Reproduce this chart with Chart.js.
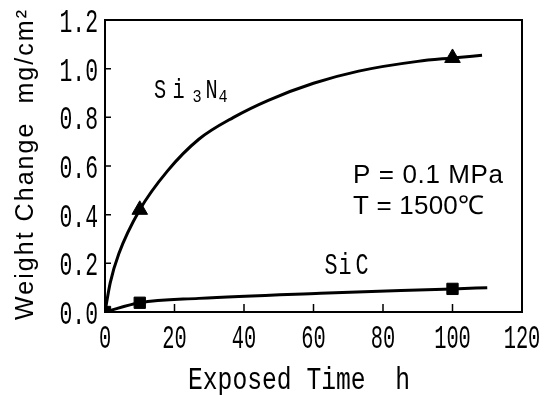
<!DOCTYPE html>
<html>
<head>
<meta charset="utf-8">
<script src="https://cdn.jsdelivr.net/npm/chart.js@4.4.0/dist/chart.umd.min.js"></script>
<style>
html, body { margin: 0; padding: 0; background: #fff; }
</style>
</head>
<body>
<canvas id="chart" width="544" height="395"></canvas>
<script>
// measured weight change (mg/cm2) after exposure time (h)
var timeMeasured = [0, 10, 100];
var si3n4Measured = [0, 0.42, 1.044];
var sicMeasured = [0, 0.038, 0.095];

// fitted curves through the measurements
var si3n4CurveTime = [0, 1.5, 4, 10, 18, 27, 37, 47, 60, 73, 90, 100, 108.5];
var si3n4CurveValue = [0, 0.12, 0.24, 0.42, 0.58, 0.71, 0.80, 0.87, 0.94, 0.99, 1.03, 1.044, 1.055];
var sicCurveTime = [0, 10, 27, 62, 100, 110];
var sicCurveValue = [0, 0.038, 0.056, 0.077, 0.095, 0.10];

var xTicks = [0, 20, 40, 60, 80, 100, 120];
var yTicks = [0, 0.2, 0.4, 0.6, 0.8, 1.0, 1.2];

var MONO = "'Liberation Mono', 'DejaVu Sans Mono', monospace";
var SANS = "'Liberation Sans', Arial, sans-serif";

function pairs(xs, ys) {
    return xs.map(function (x, i) { return { x: x, y: ys[i] }; });
}

// text squeezed horizontally by sx
function narrowText(ctx, text, x, y, font, sx, align) {
    ctx.font = font;
    var w = ctx.measureText(text).width * sx;
    var x0 = align === 'right' ? x - w : align === 'center' ? x - w / 2 : x;
    ctx.save();
    ctx.translate(x0, y);
    ctx.scale(sx, 1);
    ctx.textAlign = 'left';
    ctx.fillText(text, 0, 0);
    ctx.restore();
}

// text made to span a given width: letter spacing when short, squeeze when long
function fitText(ctx, text, x, y, width, font) {
    ctx.font = font;
    ctx.letterSpacing = '0px';
    var natural = ctx.measureText(text).width;
    if (natural >= width) {
        narrowText(ctx, text, x, y, font, width / natural, 'left');
        return;
    }
    ctx.letterSpacing = ((width - natural) / (text.length - 1)) + 'px';
    ctx.textAlign = 'left';
    ctx.fillText(text, x, y);
    ctx.letterSpacing = '0px';
}

var framePlugin = {
    id: 'frame',
    afterDraw: function (chart) {
        var ctx = chart.ctx;
        var a = chart.chartArea;
        var xs = chart.scales.x, ys = chart.scales.y;
        ctx.save();
        ctx.strokeStyle = '#000';
        ctx.lineWidth = 2;
        ctx.strokeRect(a.left, a.top, a.right - a.left, a.bottom - a.top);

        // inward tick marks
        ctx.lineWidth = 1.5;
        ctx.beginPath();
        xTicks.forEach(function (t) {
            var px = xs.getPixelForValue(t);
            ctx.moveTo(px, a.bottom);
            ctx.lineTo(px, a.bottom - 8);
        });
        yTicks.forEach(function (t) {
            var py = ys.getPixelForValue(t);
            ctx.moveTo(a.left, py);
            ctx.lineTo(a.left + 6, py);
        });
        ctx.stroke();

        ctx.fillStyle = '#000';
        ctx.textBaseline = 'alphabetic';

        // tick labels
        var tickFont = '34px ' + MONO;
        xTicks.forEach(function (t) {
            narrowText(ctx, String(t), xs.getPixelForValue(t), 348, tickFont, 0.6, 'center');
        });
        yTicks.forEach(function (t) {
            narrowText(ctx, t.toFixed(1), 98, ys.getPixelForValue(t) + 12, tickFont, 0.63, 'right');
        });

        // axis titles
        fitText(ctx, 'Exposed Time  h', 188, 389, 222, '31px ' + MONO);
        ctx.save();
        ctx.translate(33, 320);
        ctx.rotate(-Math.PI / 2);
        fitText(ctx, 'Weight Change  mg/cm\u00b2', 0, 0, 310, '25px ' + SANS);
        ctx.restore();

        // curve labels
        var big = '27px ' + MONO, small = '19px ' + MONO;
        narrowText(ctx, 'S', 160, 98, big, 0.75, 'center');
        narrowText(ctx, 'i', 178.5, 98, big, 0.75, 'center');
        narrowText(ctx, '3', 197, 102, small, 0.8, 'center');
        narrowText(ctx, 'N', 211.5, 98, big, 0.75, 'center');
        narrowText(ctx, '4', 223, 102, small, 0.8, 'center');

        var sic = '29px ' + MONO;
        narrowText(ctx, 'S', 331, 274, sic, 0.75, 'center');
        narrowText(ctx, 'i', 345, 274, sic, 0.75, 'center');
        narrowText(ctx, 'C', 362, 274, sic, 0.75, 'center');

        // test conditions
        fitText(ctx, 'P = 0.1 MPa', 353, 183, 150, '26px ' + SANS);
        fitText(ctx, 'T = 1500\u2103', 353, 214, 131, '26px ' + SANS);
        ctx.restore();
    }
};

var config = {
    type: 'scatter',
    data: {
        datasets: [{
            label: 'Si3N4 fit',
            data: pairs(si3n4CurveTime, si3n4CurveValue),
            showLine: true,
            borderColor: '#000',
            borderWidth: 3,
            pointRadius: 0,
            cubicInterpolationMode: 'monotone'
        }, {
            label: 'SiC fit',
            data: pairs(sicCurveTime, sicCurveValue),
            showLine: true,
            borderColor: '#000',
            borderWidth: 3,
            pointRadius: 0,
            cubicInterpolationMode: 'monotone'
        }, {
            label: 'Si3N4',
            data: pairs(timeMeasured, si3n4Measured),
            pointStyle: 'triangle',
            pointRadius: 9,
            backgroundColor: '#000',
            borderColor: '#000',
            borderWidth: 1
        }, {
            label: 'SiC',
            data: pairs(timeMeasured, sicMeasured),
            pointStyle: 'rect',
            pointRadius: 8,
            backgroundColor: '#000',
            borderColor: '#000',
            borderWidth: 1
        }]
    },
    options: {
        responsive: false,
        animation: false,
        layout: {
            padding: { top: 20, right: 22, left: 0, bottom: 0 }
        },
        plugins: {
            legend: { display: false },
            tooltip: { enabled: false }
        },
        scales: {
            x: {
                type: 'linear',
                min: 0,
                max: 120,
                afterFit: function (scale) { scale.height = 83; },
                border: { display: false },
                grid: { display: false, drawTicks: false },
                ticks: { display: false }
            },
            y: {
                type: 'linear',
                min: 0,
                max: 1.2,
                afterFit: function (scale) { scale.width = 105; },
                border: { display: false },
                grid: { display: false, drawTicks: false },
                ticks: { display: false }
            }
        }
    },
    plugins: [framePlugin]
};

window.onload = function () {
    var ctx = document.getElementById('chart').getContext('2d');
    window.myChart = new Chart(ctx, config);
};
</script>
</body>
</html>
